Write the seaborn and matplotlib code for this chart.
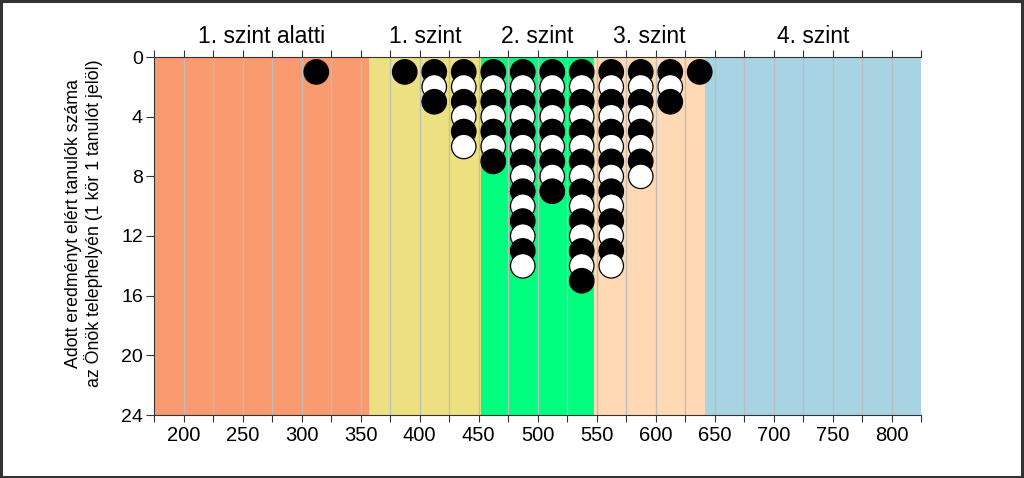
import matplotlib
matplotlib.use("Agg")
import matplotlib.pyplot as plt
import seaborn as sns
import pandas as pd
from matplotlib.patches import Rectangle
from matplotlib.transforms import blended_transform_factory

# --- data ---
bin_centers = [312.5, 387.5, 412.5, 437.5, 462.5, 487.5, 512.5, 537.5, 562.5, 587.5, 612.5, 637.5]
student_counts = [1, 1, 3, 6, 7, 14, 9, 15, 14, 8, 3, 1]
band_edges = [175, 357, 452, 548, 642, 825]
band_names = ["1. szint alatti", "1. szint", "2. szint", "3. szint", "4. szint"]
band_colors = ["#FA9A70", "#EDE080", "#00FF7F", "#FFD9B3", "#A8D3E3"]
x_ticks = [200, 250, 300, 350, 400, 450, 500, 550, 600, 650, 700, 750, 800]
y_ticks = [0, 4, 8, 12, 16, 20, 24]
y_label = "Adott eredményt elért tanulók száma\naz Önök telephelyén (1 kör 1 tanulót jelöl)"

rows = []
for xc, n in zip(bin_centers, student_counts):
    for k in range(1, n + 1):
        rows.append({"score": xc, "pos": k, "tone": "b" if k % 2 == 1 else "w"})
df = pd.DataFrame(rows)

sns.set_theme(style="white")
plt.rcParams["font.family"] = ["Liberation Sans", "DejaVu Sans"]
plt.rcParams["text.color"] = "black"
plt.rcParams["xtick.color"] = "black"
plt.rcParams["ytick.color"] = "black"
plt.rcParams["axes.labelcolor"] = "black"

fig = plt.figure(figsize=(10.24, 4.78), dpi=100)
ax = fig.add_axes([154 / 1024, 1 - 415 / 478, (921 - 154) / 1024, (415 - 57) / 478])

# bands
for i in range(len(band_names)):
    ax.axvspan(band_edges[i], band_edges[i + 1], color=band_colors[i], zorder=0, lw=0)

# grid lines every 25
for gx in range(200, 825, 25):
    ax.axvline(gx, color="#BDBDBD", lw=0.9, zorder=1)

sns.scatterplot(data=df, x="score", y="pos", hue="tone",
                palette={"b": "black", "w": "white"}, s=310,
                edgecolor="black", linewidth=0.9, legend=False, ax=ax, zorder=3)

ax.set_xlim(175, 825)
ax.set_ylim(24, 0)
ax.set_xticks(x_ticks)
ax.set_xticks(list(range(175, 826, 25)), minor=True)
ax.set_yticks(y_ticks)
ax.tick_params(axis="x", which="both", bottom=True, top=True, direction="out",
               length=5, width=0.8, color="#333333", labelsize=14.5, pad=3)
ax.tick_params(axis="y", left=True, direction="out", length=6, width=0.8,
               color="#333333", labelsize=14, pad=2)
ax.set_xlabel("")
ax.set_ylabel(y_label, fontsize=12.8, linespacing=1.1)
ax.yaxis.set_label_coords(-0.067, 0.535)

ax.spines["right"].set_visible(False)
for side in ["left", "top", "bottom"]:
    ax.spines[side].set_visible(True)
    ax.spines[side].set_color("#333333")
    ax.spines[side].set_linewidth(0.8)

trans = blended_transform_factory(ax.transData, ax.transAxes)
for i, name in enumerate(band_names):
    xc = (band_edges[i] + band_edges[i + 1]) / 2
    ax.text(xc, 1.057, name, transform=trans, ha="center", va="center", fontsize=16.5)

fig.patches.append(Rectangle((0.001, 0.002), 0.997, 0.995, transform=fig.transFigure,
                             fill=False, edgecolor="#333333", linewidth=2.2))

fig.savefig("out.png", dpi=100)
